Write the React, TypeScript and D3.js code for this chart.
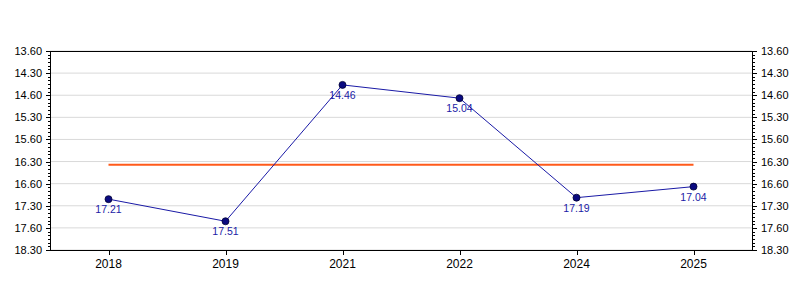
import React from "react";
import * as d3 from "d3";

const years = ["2018", "2019", "2021", "2022", "2024", "2025"];
const values = ["17.21", "17.51", "14.46", "15.04", "17.19", "17.04"];
const tickLabels = ["13.60", "14.30", "14.60", "15.30", "15.60", "16.30", "16.60", "17.30", "17.60", "18.30"];

// values are minutes.seconds
const toSec = (s: string) => {
  const [m, sec] = s.split(".");
  return +m * 60 + +sec;
};

const W = 800, H = 300;
const left = 50, right = 752, top = 51, bottom = 250;

export default function App() {
  const secs = values.map(toSec);
  const tickSecs = tickLabels.map(toSec);
  const y = d3.scaleLinear().domain([tickSecs[0], tickSecs[tickSecs.length - 1]]).range([top, bottom]);
  const x = d3.scaleBand().domain(years).range([left, right]).padding(0);
  const cx = (yr: string) => (x(yr) as number) + x.bandwidth() / 2;
  const avg = d3.mean(secs) as number;
  const line = d3.line<number>().x((_, i) => cx(years[i])).y((d) => y(d));
  const minor = d3.range(tickSecs[0], tickSecs[tickSecs.length - 1] + 0.1, 5);
  const font = "'Liberation Sans', Arial, sans-serif";
  return (
    <svg width={W} height={H} style={{ position: "absolute", left: 0, top: 0 }}>
      <rect width={W} height={H} fill="#fff" />
      {tickSecs.map((t, i) => (
        <line key={"g" + i} x1={left} x2={right} y1={y(t)} y2={y(t)} stroke="#d9d9d9" strokeWidth={1} />
      ))}
      <line x1={left} x2={right} y1={top + 0.5} y2={top + 0.5} stroke="#000" />
      <line x1={left} x2={right} y1={bottom + 0.5} y2={bottom + 0.5} stroke="#000" />
      <line x1={left + 0.5} x2={left + 0.5} y1={top} y2={bottom + 1} stroke="#000" />
      <line x1={right + 0.5} x2={right + 0.5} y1={top} y2={bottom + 1} stroke="#000" />
      {minor.map((t, i) => (
        <g key={"m" + i}>
          <line x1={left - 2} x2={left} y1={Math.round(y(t)) + 0.5} y2={Math.round(y(t)) + 0.5} stroke="#000" />
          <line x1={right + 1} x2={right + 3} y1={Math.round(y(t)) + 0.5} y2={Math.round(y(t)) + 0.5} stroke="#000" />
        </g>
      ))}
      {tickSecs.map((t, i) => (
        <g key={"t" + i}>
          <line x1={left - 4} x2={left} y1={Math.round(y(t)) + 0.5} y2={Math.round(y(t)) + 0.5} stroke="#000" />
          <line x1={right + 1} x2={right + 5} y1={Math.round(y(t)) + 0.5} y2={Math.round(y(t)) + 0.5} stroke="#000" />
          <text x={left - 8} y={y(t) + 4} textAnchor="end" fontFamily={font} fontSize={11} fill="#000">{tickLabels[i]}</text>
          <text x={right + 9} y={y(t) + 4} textAnchor="start" fontFamily={font} fontSize={11} fill="#000">{tickLabels[i]}</text>
        </g>
      ))}
      {years.map((yr) => (
        <g key={yr}>
          <line x1={Math.round(cx(yr)) + 0.5} x2={Math.round(cx(yr)) + 0.5} y1={bottom} y2={bottom + 5} stroke="#000" />
          <text x={cx(yr)} y={bottom + 18} textAnchor="middle" fontFamily={font} fontSize={12} fill="#000">{yr}</text>
        </g>
      ))}
      <line x1={cx(years[0])} x2={cx(years[years.length - 1])} y1={y(avg)} y2={y(avg)} stroke="#ff5a1a" strokeWidth={2} />
      <path d={line(secs) as string} fill="none" stroke="#1a1aa6" strokeWidth={1} />
      {secs.map((s, i) => (
        <g key={"p" + i}>
          <circle cx={cx(years[i])} cy={y(s)} r={3.5} fill="#0a0a80" stroke="#000033" strokeWidth={0.8} />
          <text x={cx(years[i])} y={y(s) + 14} textAnchor="middle" fontFamily={font} fontSize={10.5} fill="#1a1aa6">{values[i]}</text>
        </g>
      ))}
    </svg>
  );
}
